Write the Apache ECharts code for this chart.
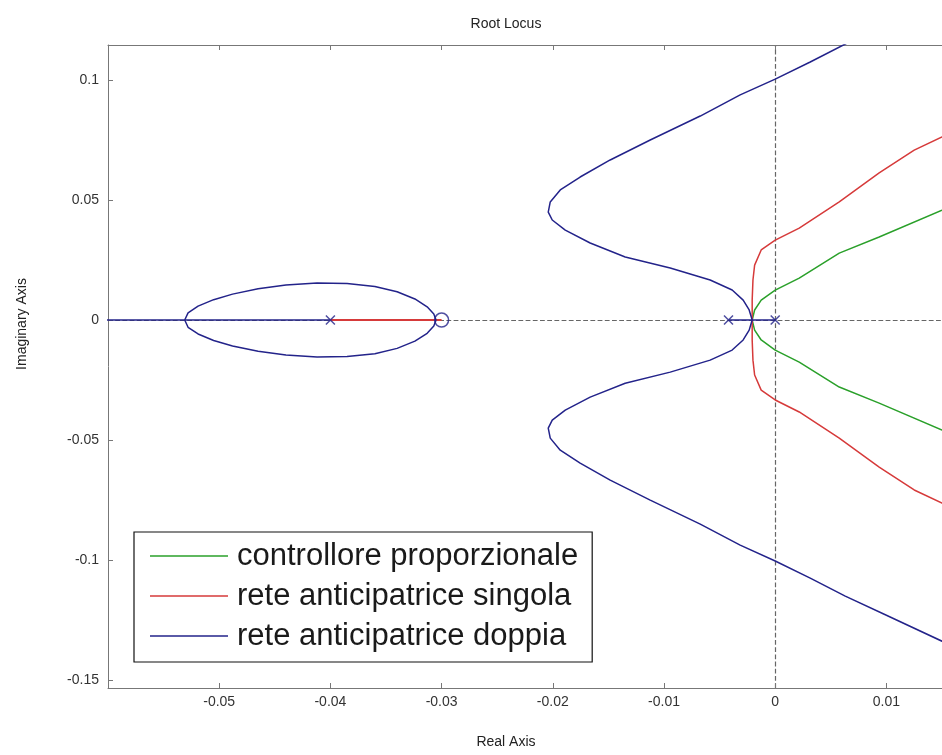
<!DOCTYPE html>
<html>
<head>
<meta charset="utf-8">
<title>Root Locus</title>
<script src="https://cdn.jsdelivr.net/npm/echarts@6/dist/echarts.min.js"></script>
<style>
  html, body { margin: 0; padding: 0; background: #fff; }
  #chart { width: 942px; height: 755px; }
</style>
</head>
<body>
<div id="chart"></div>
<script>
// Axis limits and tick values
const xLimits = [-0.06, 0.015];
const yLimits = [-0.1533, 0.1146];
const yTickValues = [-0.15, -0.1, -0.05, 0, 0.05, 0.1];

// Legend names
const seriesNames = [
  'controllore proporzionale',
  'rete anticipatrice singola',
  'rete anticipatrice doppia'
];

// Proportional controller branches (from the breakaway point)
const greenUpper = [[-0.00207,0],[-0.00185,0.0042],[-0.00126,0.0083],[0,0.0125],[0.00216,0.0175],[0.00576,0.0279],[0.00935,0.0346],[0.0150,0.0458],[0.0166,0.0490]];
const greenLower = [[-0.00207,0],[-0.00185,-0.0042],[-0.00126,-0.0083],[0,-0.0125],[0.00216,-0.0175],[0.00576,-0.0279],[0.00935,-0.0346],[0.0150,-0.0458],[0.0166,-0.0490]];

// Single lead network branches
const redAxis = [[-0.04,0],[-0.03,0]];
const redUpper = [[-0.00207,0],[-0.00207,0.0083],[-0.00200,0.0167],[-0.00185,0.0229],[-0.00126,0.0292],[0,0.0333],[0.00216,0.0383],[0.00576,0.0492],[0.00935,0.0613],[0.0125,0.0708],[0.0150,0.0763],[0.0166,0.0805]];
const redLower = [[-0.00207,0],[-0.00207,-0.0083],[-0.00200,-0.0167],[-0.00185,-0.0229],[-0.00126,-0.0292],[0,-0.0333],[0.00216,-0.0383],[0.00576,-0.0492],[0.00935,-0.0613],[0.0125,-0.0708],[0.0150,-0.0763],[0.0166,-0.0805]];

// Double lead network branches
const blueAxisLeft = [[-0.065,0],[-0.04,0]];
const blueAxisRight = [[-0.0042,0],[0,0]];
const blueLoopUpper = [[-0.0531,0],[-0.0528,0.0030],[-0.0519,0.0058],[-0.0505,0.0085],[-0.0488,0.0108],[-0.0465,0.0130],[-0.0440,0.0146],[-0.0412,0.0154],[-0.0385,0.0152],[-0.0360,0.0140],[-0.0340,0.0118],[-0.0324,0.0088],[-0.0313,0.0055],[-0.0307,0.0025],[-0.0305,0]];
const blueLoopLower = [[-0.0531,0],[-0.0528,-0.0030],[-0.0519,-0.0058],[-0.0505,-0.0085],[-0.0488,-0.0108],[-0.0465,-0.0130],[-0.0440,-0.0146],[-0.0412,-0.0154],[-0.0385,-0.0152],[-0.0360,-0.0140],[-0.0340,-0.0118],[-0.0324,-0.0088],[-0.0313,-0.0055],[-0.0307,-0.0025],[-0.0305,0]];
const blueUpper = [[-0.00207,0],[-0.00234,0.0042],[-0.00288,0.0083],[-0.00387,0.0125],[-0.00585,0.0167],[-0.00944,0.0217],[-0.01349,0.0263],[-0.01664,0.0321],[-0.01888,0.0375],[-0.02005,0.0417],[-0.02041,0.0450],[-0.02023,0.0492],[-0.01933,0.0542],[-0.01754,0.0596],[-0.01484,0.0667],[-0.01124,0.0750],[-0.00674,0.0850],[-0.00315,0.0938],[0,0.1004],[0.00315,0.1075],[0.0063,0.1150],[0.00944,0.1225]];
const blueLower = [[-0.00207,0],[-0.00234,-0.0042],[-0.00288,-0.0083],[-0.00387,-0.0125],[-0.00585,-0.0167],[-0.00944,-0.0217],[-0.01349,-0.0263],[-0.01664,-0.0321],[-0.01888,-0.0375],[-0.02005,-0.0417],[-0.02041,-0.0450],[-0.02023,-0.0492],[-0.01933,-0.0542],[-0.01754,-0.0596],[-0.01484,-0.0667],[-0.01124,-0.0750],[-0.00674,-0.0850],[-0.00315,-0.0938],[0,-0.1004],[0.00315,-0.1075],[0.0063,-0.1150],[0.0100,-0.1230],[0.0150,-0.1338],[0.0166,-0.1375]];

// Open-loop poles and zeros
const poles = [[-0.04,0],[-0.0042,0],[0,0]];
const zeros = [[-0.03,0]];

const GREEN = '#2aa02a';
const RED = '#d63a3a';
const BLUE = '#23238a';
const AXIS = '#777777';
const FONT = '"Liberation Sans", Arial, sans-serif';

function branch(name, color, data, extra) {
  return Object.assign({
    type: 'line',
    name: name,
    data: data,
    symbol: 'none',
    showSymbol: false,
    smooth: false,
    clip: true,
    animation: false,
    silent: true,
    color: color,
    lineStyle: { color: color, width: 1.5 }
  }, extra || {});
}

const series = [
  // dashed reference lines through the origin, kept beneath the loci
  {
    type: 'line',
    data: [],
    symbol: 'none',
    silent: true,
    animation: false,
    z: 0,
    markLine: {
      silent: true,
      z: 0,
      symbol: ['none', 'none'],
      label: { show: false },
      animation: false,
      lineStyle: { color: '#666', type: 'dashed', width: 1.2 },
      data: [{ xAxis: 0 }, { yAxis: 0 }]
    }
  },
  branch(seriesNames[0], GREEN, greenUpper, { z: 2 }),
  branch(seriesNames[0], GREEN, greenLower, { z: 2 }),
  branch(seriesNames[1], RED, redUpper, { z: 3 }),
  branch(seriesNames[1], RED, redLower, { z: 3 }),
  branch(seriesNames[1], RED, redAxis, { z: 3, lineStyle: { color: RED, width: 2 } }),
  branch(seriesNames[2], BLUE, blueAxisLeft, { z: 4 }),
  branch(seriesNames[2], BLUE, blueAxisRight, { z: 4 }),
  branch(seriesNames[2], BLUE, blueLoopUpper, { z: 4 }),
  branch(seriesNames[2], BLUE, blueLoopLower, { z: 4 }),
  branch(seriesNames[2], BLUE, blueUpper, { z: 4 }),
  branch(seriesNames[2], BLUE, blueLower, { z: 4 }),
  {
    type: 'scatter',
    data: poles,
    symbol: 'path://M0,0L10,10M10,0L0,10',
    symbolSize: 9,
    silent: true,
    animation: false,
    z: 6,
    itemStyle: { color: 'transparent', borderColor: BLUE, borderWidth: 1.5 }
  },
  {
    type: 'scatter',
    data: zeros,
    symbol: 'circle',
    symbolSize: 14,
    silent: true,
    animation: false,
    z: 6,
    itemStyle: { color: 'transparent', borderColor: BLUE, borderWidth: 1.5 }
  }
];

const chart = echarts.init(document.getElementById('chart'), null, { renderer: 'canvas' });

function tickText(v) {
  const r = Math.round(v * 1000) / 1000;
  return r === 0 ? '0' : String(r);
}

chart.setOption({
  backgroundColor: '#ffffff',
  animation: false,
  grid: { left: 108, top: 45, right: 0, bottom: 67, show: false },
  xAxis: [
    {
      type: 'value',
      position: 'bottom',
      min: xLimits[0],
      max: xLimits[1],
      interval: 0.01,
      axisLine: { show: true, onZero: false, lineStyle: { color: AXIS, width: 1 } },
      axisTick: { show: true, inside: true, length: 5, lineStyle: { color: AXIS } },
      splitLine: { show: false },
      axisLabel: {
        show: true,
        margin: 7,
        color: '#333',
        fontSize: 14,
        fontFamily: FONT,
        showMinLabel: false,
        showMaxLabel: false,
        formatter: function (v) {
          if (v < xLimits[0] + 0.0001) return '';
          return tickText(v);
        }
      }
    },
    {
      type: 'value',
      position: 'top',
      min: xLimits[0],
      max: xLimits[1],
      interval: 0.01,
      axisLine: { show: true, onZero: false, lineStyle: { color: AXIS, width: 1 } },
      axisTick: { show: true, inside: true, length: 5, lineStyle: { color: AXIS } },
      splitLine: { show: false },
      axisLabel: { show: false }
    }
  ],
  yAxis: {
    type: 'value',
    position: 'left',
    min: yLimits[0],
    max: yLimits[1],
    axisLine: { show: true, onZero: false, lineStyle: { color: AXIS, width: 1 } },
    axisTick: { show: true, inside: true, length: 5, lineStyle: { color: AXIS }, customValues: yTickValues },
    splitLine: { show: false },
    axisLabel: {
      show: true,
      margin: 9,
      color: '#333',
      fontSize: 14,
      fontFamily: FONT,
      customValues: yTickValues,
      formatter: tickText
    }
  },
  legend: {
    show: true,
    data: seriesNames,
    orient: 'vertical',
    left: 134,
    top: 532,
    padding: [8, 14, 10, 16],
    itemGap: 8,
    itemWidth: 78,
    itemHeight: 1.5,
    icon: 'rect',
    backgroundColor: '#ffffff',
    borderColor: '#111',
    borderWidth: 1.2,
    borderRadius: 0,
    selectedMode: false,
    textStyle: {
      color: '#1a1a1a',
      fontSize: 31,
      lineHeight: 32,
      fontFamily: FONT,
      padding: [0, 0, 0, 4]
    }
  },
  graphic: [
    {
      type: 'text',
      x: 506, y: 24,
      style: { text: 'Root Locus', fill: '#222', font: '14px ' + FONT, textAlign: 'center', textVerticalAlign: 'middle' }
    },
    {
      type: 'text',
      x: 506, y: 742,
      style: { text: 'Real Axis', fill: '#222', font: '14px ' + FONT, textAlign: 'center', textVerticalAlign: 'middle' }
    },
    {
      type: 'text',
      x: 22, y: 324,
      rotation: Math.PI / 2,
      style: { text: 'Imaginary Axis', fill: '#222', font: '14px ' + FONT, textAlign: 'center', textVerticalAlign: 'middle' }
    }
  ],
  series: series
});
</script>
</body>
</html>
